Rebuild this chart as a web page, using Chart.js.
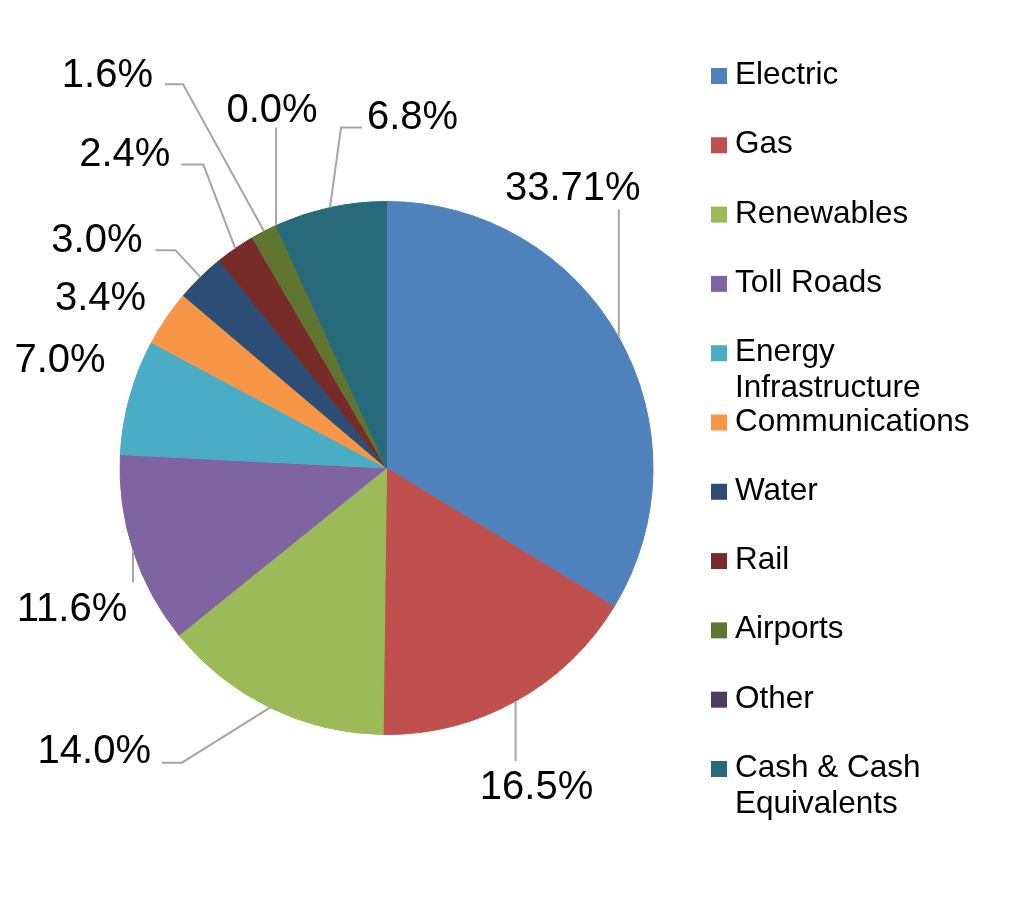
<!DOCTYPE html>
<html><head><meta charset="utf-8">
<script src="https://cdn.jsdelivr.net/npm/chart.js@4/dist/chart.umd.min.js"></script>
<style>html,body{margin:0;padding:0;background:#fff;}#wrap{width:1035px;height:898px;position:relative;}</style>
</head><body><div id="wrap"><canvas id="c" width="1035" height="898"></canvas></div>
<script>
const categories = ["Electric","Gas","Renewables","Toll Roads","Energy Infrastructure","Communications","Water","Rail","Airports","Other","Cash & Cash Equivalents"];
const values = [33.71,16.5,14.0,11.6,7.0,3.4,3.0,2.4,1.6,0.0,6.8];
const valueLabels = ["33.71%","16.5%","14.0%","11.6%","7.0%","3.4%","3.0%","2.4%","1.6%","0.0%","6.8%"];
const colors = ["#4F81BD","#C0504D","#9BBB59","#8064A2","#4BACC6","#F79646","#2C4D75","#772C2A","#5F7530","#4D3B62","#276A7C"];

// label layout relative to the slice's outer-edge mid point
const labelLayout = [
 {leader:[[0,-128]], text:[-46,-137], align:'center'},
 {leader:[[0,60]], text:[21,98], align:'center'},
 {leader:[[-88,55],[-108,55]], text:[-119,55], align:'right'},
 {leader:[[0,32]], text:[-61,71], align:'center'},
 {leader:[], text:[-24,-25], align:'right'},
 {leader:[], text:[-20,-8], align:'right'},
 {leader:[[-25,-27],[-45,-27]], text:[-58,-25], align:'right'},
 {leader:[[-32,-84],[-54,-84]], text:[-65,-83], align:'right'},
 {leader:[[-81,-147],[-99,-147]], text:[-111,-144], align:'right'},
 {leader:[[0,-98]], text:[-4,-103], align:'center'},
 {leader:[[11,-80],[32,-80]], text:[37,-79], align:'left'}
];

const FONT = '"Liberation Sans", Arial, sans-serif';

const dataLabelPlugin = {
  id:'dataLabels',
  afterDatasetsDraw(chart){
    const ctx = chart.ctx;
    const meta = chart.getDatasetMeta(0);
    ctx.save();
    meta.data.forEach((arc,i)=>{
      const p = arc.getProps(['x','y','startAngle','endAngle','outerRadius'], true);
      const mid = (p.startAngle+p.endAngle)/2;
      const ax = p.x + Math.cos(mid)*p.outerRadius;
      const ay = p.y + Math.sin(mid)*p.outerRadius;
      const L = labelLayout[i];
      if (L.leader.length){
        ctx.beginPath();
        ctx.strokeStyle = '#A6A6A6';
        ctx.lineWidth = 2;
        ctx.moveTo(ax, ay);
        L.leader.forEach(pt=>ctx.lineTo(ax+pt[0], ay+pt[1]));
        ctx.stroke();
      }
      ctx.fillStyle = '#000';
      ctx.font = '40px ' + FONT;
      ctx.textAlign = L.align;
      ctx.textBaseline = 'alphabetic';
      ctx.fillText(valueLabels[i], ax+L.text[0], ay+L.text[1]);
    });
    ctx.restore();
  }
};

const legendPlugin = {
  id:'sideLegend',
  afterDraw(chart){
    const ctx = chart.ctx;
    ctx.save();
    ctx.font = '31.5px ' + FONT;
    ctx.textAlign = 'left';
    ctx.textBaseline = 'alphabetic';
    const x0 = 711, tx = 735, firstBase = 84, step = 69.3, lineH = 36, maxW = 250;
    categories.forEach((name,i)=>{
      const base = firstBase + i*step;
      ctx.fillStyle = colors[i];
      ctx.fillRect(x0, base-16, 16, 16);
      const words = name.split(' ');
      const lines = [];
      let cur = '';
      words.forEach(w=>{
        const t = cur ? cur+' '+w : w;
        if (ctx.measureText(t).width > maxW && cur){ lines.push(cur); cur = w; }
        else cur = t;
      });
      lines.push(cur);
      ctx.fillStyle = '#000';
      lines.forEach((ln,j)=>ctx.fillText(ln, tx, base + j*lineH));
    });
    ctx.restore();
  }
};

new Chart(document.getElementById('c'), {
  type:'pie',
  data:{ labels:categories, datasets:[{ data:values, backgroundColor:colors, borderColor:colors, borderWidth:1 }]},
  options:{
    responsive:false,
    animation:false,
    layout:{ padding:{ left:119, right:381, top:201, bottom:163 } },
    plugins:{ legend:{display:false}, tooltip:{enabled:false} }
  },
  plugins:[dataLabelPlugin, legendPlugin]
});
</script>
</body></html>
